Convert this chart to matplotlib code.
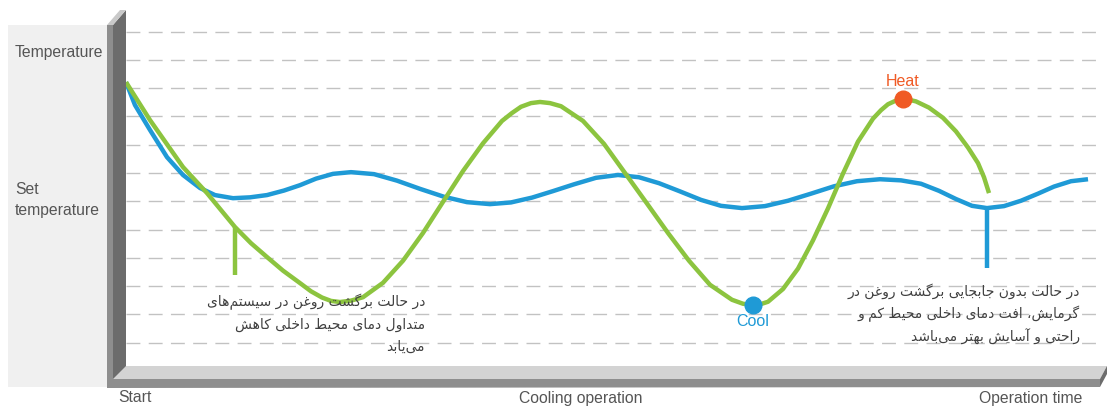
import matplotlib
matplotlib.use("Agg")
import matplotlib.pyplot as plt
from matplotlib.patches import Polygon, Rectangle

# ---------------------------------------------------------------
# data (time 0..~97, temperature in grid steps)

blue_t = [0, 0.9, 2.4, 4.1, 5.7, 7.4, 8.9, 10.7, 12.4, 14.1, 15.8, 17.4, 19.0,
          20.7, 22.5, 24.8, 27.1, 29.4, 31.8, 34.1, 36.4, 38.5, 40.6, 42.7,
          44.8, 47.0, 49.2, 51.3, 53.3, 55.4, 57.5, 59.5, 61.6, 63.9, 66.2,
          68.5, 70.8, 73.1, 75.4, 77.5, 79.5, 81.3, 83.0, 84.6, 86.1, 87.8,
          89.5, 91.2, 92.8, 94.5, 96.2]
blue_temp = [10.21, 9.40, 8.52, 7.56, 6.93, 6.47, 6.22, 6.11, 6.14, 6.22, 6.38,
             6.57, 6.80, 6.97, 7.03, 6.96, 6.73, 6.44, 6.16, 5.97, 5.90, 5.96,
             6.13, 6.36, 6.60, 6.83, 6.93, 6.85, 6.64, 6.35, 6.05, 5.84, 5.76,
             5.83, 6.02, 6.27, 6.53, 6.71, 6.78, 6.74, 6.62, 6.37, 6.08, 5.84,
             5.76, 5.83, 6.02, 6.27, 6.52, 6.71, 6.78]

green_t = [0, 2.4, 5.7, 8.1, 10.9, 12.5, 14.1, 15.7, 17.4, 18.5, 19.6, 20.5,
           21.4, 22.5, 23.7, 25.7, 27.7, 29.7, 31.7, 33.7, 35.7, 37.6, 38.6,
           39.5, 40.5, 41.4, 42.4, 43.5, 45.7, 47.8, 49.9, 52.1, 54.2, 56.3,
           58.4, 60.6, 61.7, 62.7, 63.5, 64.2, 65.7, 67.2, 68.7, 70.2, 71.7,
           73.2, 74.7, 75.5, 76.2, 77.0, 77.7, 78.4, 79.0, 80.3, 81.7, 83.0,
           84.2, 85.2, 85.8, 86.3]
green_temp = [10.21, 8.87, 7.21, 6.29, 5.09, 4.52, 4.03, 3.55, 3.11, 2.82, 2.60,
              2.48, 2.44, 2.49, 2.61, 3.12, 3.90, 4.88, 5.98, 7.07, 8.05, 8.84,
              9.12, 9.34, 9.47, 9.51, 9.47, 9.36, 8.84, 8.03, 7.00, 5.92, 4.88,
              3.90, 3.05, 2.52, 2.38, 2.33, 2.37, 2.45, 2.90, 3.62, 4.62, 5.75,
              6.98, 8.11, 8.92, 9.22, 9.43, 9.56, 9.61, 9.58, 9.53, 9.31, 8.95,
              8.47, 7.90, 7.35, 6.85, 6.29]

# drop lines (time, top, bottom)
green_drop = (10.9, 5.09, 3.39)
blue_drop = (86.1, 5.76, 3.64)

cool_pt = (62.7, 2.33)
heat_pt = (77.7, 9.61)

grid_levels = [1, 2, 3, 4, 5, 6, 7, 8, 9, 10, 11, 12]

y_labels = ["Temperature", "Set\ntemperature"]
x_labels = ["Start", "Cooling operation", "Operation time"]

note_left = ["در حالت برگشت روغن در سیستم‌های",
             "متداول دمای محیط داخلی کاهش",
             "می‌یابد"]
note_right = ["در حالت بدون جابجایی برگشت روغن در",
              "گرمایش، افت دمای داخلی محیط کم و",
              "راحتی و آسایش بهتر می‌باشد"]

BLUE = "#1f9ad6"
GREEN = "#8cc43f"
ORANGE = "#f05a24"
TXT = "#555555"

# ---------------------------------------------------------------
# tiny persian shaper: matplotlib does no arabic joining / rtl

FORMS = {
    'ا': ('\uFE8D', '\uFE8E', None, None),
    'آ': ('\uFE81', '\uFE82', None, None),
    'ب': ('\uFE8F', '\uFE90', '\uFE91', '\uFE92'),
    'ت': ('\uFE95', '\uFE96', '\uFE97', '\uFE98'),
    'ج': ('\uFE9D', '\uFE9E', '\uFE9F', '\uFEA0'),
    'ح': ('\uFEA1', '\uFEA2', '\uFEA3', '\uFEA4'),
    'خ': ('\uFEA5', '\uFEA6', '\uFEA7', '\uFEA8'),
    'د': ('\uFEA9', '\uFEAA', None, None),
    'ر': ('\uFEAD', '\uFEAE', None, None),
    'س': ('\uFEB1', '\uFEB2', '\uFEB3', '\uFEB4'),
    'ش': ('\uFEB5', '\uFEB6', '\uFEB7', '\uFEB8'),
    'ط': ('\uFEC1', '\uFEC2', '\uFEC3', '\uFEC4'),
    'غ': ('\uFECD', '\uFECE', '\uFECF', '\uFED0'),
    'ف': ('\uFED1', '\uFED2', '\uFED3', '\uFED4'),
    'ل': ('\uFEDD', '\uFEDE', '\uFEDF', '\uFEE0'),
    'م': ('\uFEE1', '\uFEE2', '\uFEE3', '\uFEE4'),
    'ن': ('\uFEE5', '\uFEE6', '\uFEE7', '\uFEE8'),
    'ه': ('\uFEE9', '\uFEEA', '\uFEEB', '\uFEEC'),
    'و': ('\uFEED', '\uFEEE', None, None),
    'ی': ('\uFBFC', '\uFBFD', '\uFBFE', '\uFBFF'),
    'ک': ('\uFB8E', '\uFB8F', '\uFB90', '\uFB91'),
    'گ': ('\uFB92', '\uFB93', '\uFB94', '\uFB95'),
}


def shape(line):
    out = []
    for i, c in enumerate(line):
        if c == '\u200c':
            continue
        if c not in FORMS:
            out.append(c)
            continue
        f = FORMS[c]
        prev = line[i - 1] if i > 0 else ''
        nxt = line[i + 1] if i + 1 < len(line) else ''
        pj = prev in FORMS and FORMS[prev][2] is not None
        nj = nxt in FORMS and f[2] is not None
        if pj and nj:
            out.append(f[3])
        elif pj:
            out.append(f[1])
        elif nj:
            out.append(f[2])
        else:
            out.append(f[0])
    return ''.join(out)[::-1]


# ---------------------------------------------------------------
W, H = 1107, 407
fig = plt.figure(figsize=(W / 100, H / 100), dpi=100)
fig.patch.set_facecolor("white")

# background / 3d frame in pixel coords
bg = fig.add_axes([0, 0, 1, 1])
bg.set_xlim(0, W)
bg.set_ylim(H, 0)
bg.axis("off")
px = bg.transData
bg.add_patch(Rectangle((8, 25), 100, 362, color="#f0f0f0", lw=0))
# left wall
bg.add_patch(Polygon([(107, 25), (113, 25), (113, 388), (107, 388)], color="#8e8e8e", lw=0))
bg.add_patch(Polygon([(113, 25), (126, 10), (126, 373), (113, 388)], color="#6c6c6c", lw=0))
bg.add_patch(Polygon([(107, 25), (120, 10), (126, 10), (113, 25)], color="#c9c9c9", lw=0))
# floor
bg.add_patch(Polygon([(113, 379), (126, 366), (1107, 366), (1100, 379)], color="#d3d3d3", lw=0))
bg.add_patch(Polygon([(113, 379), (1100, 379), (1100, 387), (107, 388)], color="#8e8e8e", lw=0))
bg.add_patch(Polygon([(1100, 379), (1107, 366), (1107, 374), (1100, 387)], color="#6c6c6c", lw=0))

# main plot area
ax = fig.add_axes([126 / W, (H - 366) / H, (1100 - 126) / W, (366 - 10) / H])
ax.set_facecolor("white")
ax.set_xlim(0, 97.4)
ax.set_ylim(0.18, 12.76)
for s in ax.spines.values():
    s.set_visible(False)
ax.set_xticks([])
ax.set_yticks([])
for g in grid_levels:
    ax.axhline(g, color="#c2c2c2", lw=1.0, dashes=(10, 6), zorder=1)

ax.plot(blue_t, blue_temp, color=BLUE, lw=3.2, solid_capstyle="butt", zorder=3)
ax.plot(green_t, green_temp, color=GREEN, lw=3.2, solid_capstyle="butt", zorder=4)
ax.plot([green_drop[0]] * 2, green_drop[1:], color=GREEN, lw=3.2, solid_capstyle="butt", zorder=4)
ax.plot([blue_drop[0]] * 2, blue_drop[1:], color=BLUE, lw=3.2, solid_capstyle="butt", zorder=3)

ax.plot(*cool_pt, "o", color=BLUE, ms=12, zorder=5)
ax.plot(*heat_pt, "o", color=ORANGE, ms=12, zorder=5)
ax.text(cool_pt[0], cool_pt[1] - 0.33, "Cool", color=BLUE, fontsize=11.5,
        family="Liberation Sans", ha="center", va="top")
ax.text(heat_pt[0], heat_pt[1] + 0.36, "Heat", color=ORANGE, fontsize=11.5,
        family="Liberation Sans", ha="center", va="bottom")

# labels (pixel positions, drawn on top of every axes)
fs = 11.3
fig.text(15, 52, y_labels[0], color=TXT, fontsize=fs, family="Liberation Sans",
         va="center", transform=px)
fig.text(15, 200, y_labels[1], color=TXT, fontsize=fs, family="Liberation Sans",
         va="center", linespacing=1.45, transform=px)
fig.text(118, 398, x_labels[0], color=TXT, fontsize=fs, family="Liberation Sans",
         va="center", transform=px)
fig.text(581, 398, x_labels[1], color=TXT, fontsize=fs, family="Liberation Sans",
         va="center", ha="center", transform=px)
fig.text(1082, 398, x_labels[2], color=TXT, fontsize=fs, family="Liberation Sans",
         va="center", ha="right", transform=px)

left_txt = "\n".join(shape(l) for l in note_left)
right_txt = "\n".join(shape(l) for l in note_right)
fig.text(425, 294, left_txt, color="#404040", fontsize=10, family="DejaVu Sans",
         ha="right", va="top", multialignment="right", linespacing=1.7, transform=px)
fig.text(1080, 283, right_txt, color="#404040", fontsize=10, family="DejaVu Sans",
         ha="right", va="top", multialignment="right", linespacing=1.55, transform=px)

fig.savefig("out.png", dpi=100)
